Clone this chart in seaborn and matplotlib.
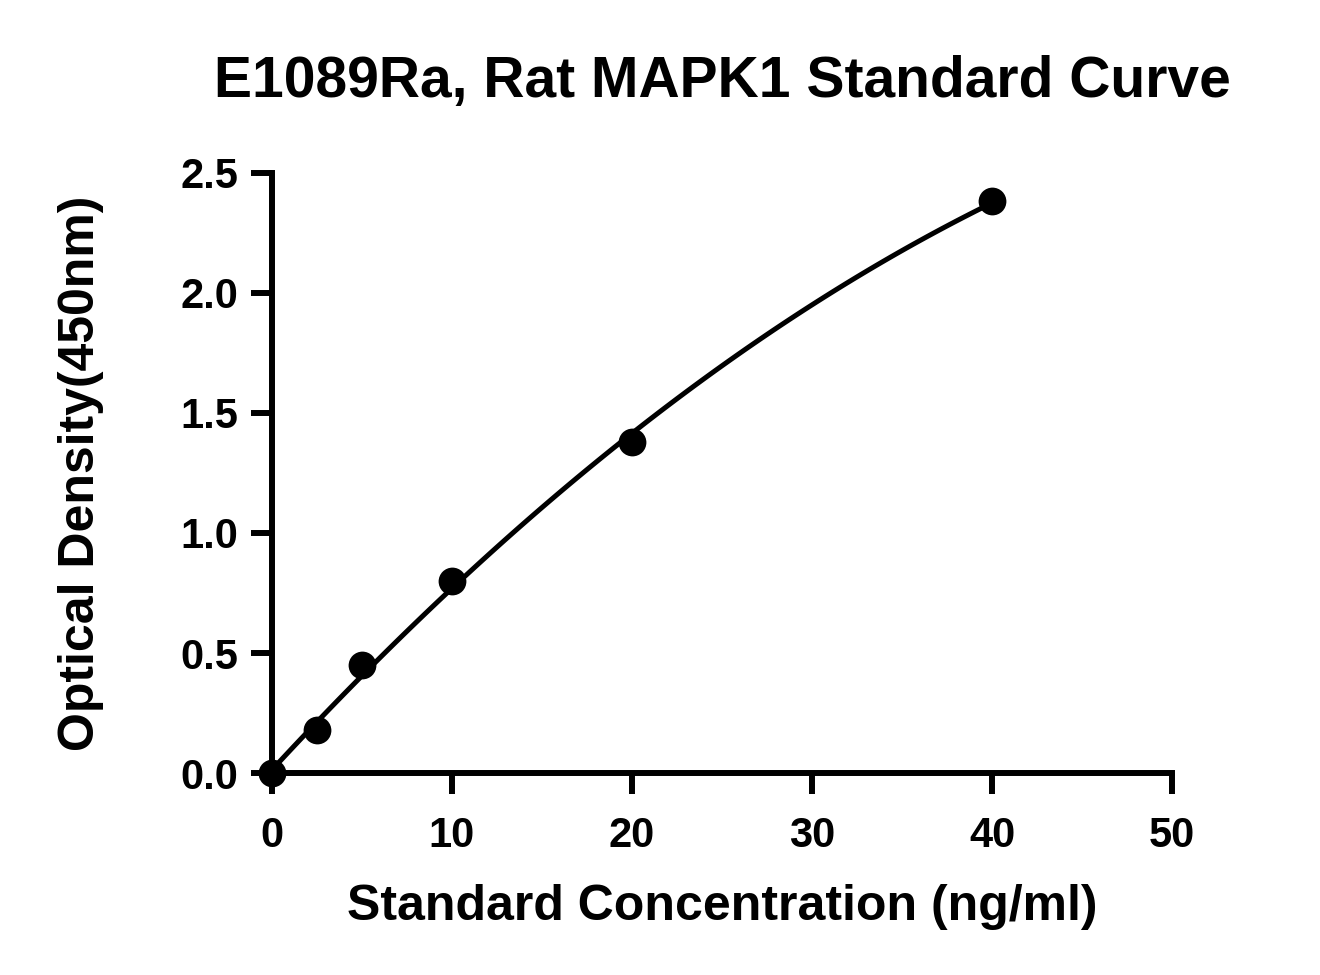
import pandas as pd
import matplotlib.pyplot as plt
import seaborn as sns

# standard curve readings
conc = [0, 2.5, 5, 10, 20, 40]
od = [0.0, 0.18, 0.45, 0.80, 1.38, 2.38]
x_ticks = [0, 10, 20, 30, 40, 50]
y_ticks = [0.0, 0.5, 1.0, 1.5, 2.0, 2.5]

df = pd.DataFrame({'conc': conc, 'od': od})

sns.set_style('ticks')
plt.rcParams['font.family'] = ['Liberation Sans', 'DejaVu Sans']
plt.rcParams['font.weight'] = 'bold'
plt.rcParams['text.color'] = 'black'
plt.rcParams['axes.labelcolor'] = 'black'
plt.rcParams['xtick.color'] = 'black'
plt.rcParams['ytick.color'] = 'black'
plt.rcParams['axes.edgecolor'] = 'black'

fig = plt.figure(figsize=(13.2, 9.75), dpi=100)
ax = fig.add_axes([0.206, 0.207, 0.682, 0.616])

sns.regplot(data=df, x='conc', y='od', order=2, ci=None, truncate=True,
            scatter_kws={'s': 400, 'color': 'black', 'alpha': 1, 'zorder': 5,
                         'clip_on': False, 'linewidths': 0},
            line_kws={'color': 'black', 'lw': 3.6},
            ax=ax)

ax.set_xlim(0, 50)
ax.set_ylim(0, 2.5)
ax.set_xticks(x_ticks)
ax.set_yticks(y_ticks)
ax.set_xticklabels([f'{v}' for v in x_ticks])
ax.set_yticklabels([f'{v:.1f}' for v in y_ticks])
sns.despine(ax=ax)
for side in ['left', 'bottom']:
    ax.spines[side].set_linewidth(4.3)
ax.tick_params(width=4.3, length=15, labelsize=30)
ax.tick_params(axis='x', pad=16)
ax.tick_params(axis='y', pad=9)
for lab in ax.get_xticklabels() + ax.get_yticklabels():
    lab.set_fontweight('bold')

ax.set_xlabel('Standard Concentration (ng/ml)', fontsize=36, fontweight='bold', labelpad=20)
ax.set_ylabel('Optical Density(450nm)', fontsize=36, fontweight='bold', labelpad=55)
fig.text(0.547, 1 - 97 / 975, 'E1089Ra, Rat MAPK1 Standard Curve', ha='center', va='baseline',
         fontsize=41, fontweight='bold')

fig.savefig('out.png', dpi=100)
